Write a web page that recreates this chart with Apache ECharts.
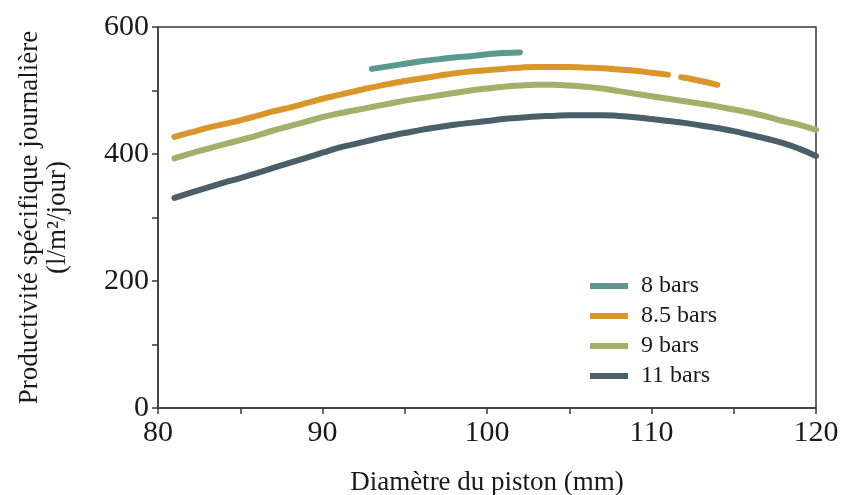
<!DOCTYPE html>
<html>
<head>
<meta charset="utf-8">
<script src="https://cdn.jsdelivr.net/npm/echarts@6/dist/echarts.min.js"></script>
<style>
  html, body { margin: 0; padding: 0; background: #fff; }
  #chart { width: 855px; height: 495px; }
</style>
</head>
<body>
<div id="chart"></div>
<script>
// piston diameter (mm) -> productivity (l/m2/jour)
const x8 = [93, 94, 95, 96, 97, 98, 99, 100, 101, 102];
const y8 = [534, 538, 542, 546, 549, 552, 554, 557, 559, 560];

const x85 = [81, 82, 83, 84, 85, 86, 87, 88, 89, 90, 91, 92, 93, 94, 95, 96, 97, 98, 99, 100, 101, 102, 103, 104, 105, 106, 107, 108, 109, 110, 111, 111.4, 111.8, 112, 113, 114];
const y85 = [427, 434, 441, 447, 453, 460, 467, 473, 480, 487, 493, 499, 505, 510, 515, 519, 523, 527, 530, 532, 534, 536, 537, 537, 537, 536, 535, 533, 531, 528, 525, '-', 521, 520, 515, 509];

const x9 = [81, 82, 83, 84, 85, 86, 87, 88, 89, 90, 91, 92, 93, 94, 95, 96, 97, 98, 99, 100, 101, 102, 103, 104, 105, 106, 107, 108, 109, 110, 111, 112, 113, 114, 115, 116, 117, 118, 119, 120];
const y9 = [393, 401, 408, 415, 422, 429, 437, 444, 451, 458, 464, 469, 474, 479, 484, 488, 492, 496, 500, 503, 506, 508, 509, 509, 508, 506, 503, 499, 495, 491, 487, 483, 479, 475, 470, 465, 459, 452, 446, 438];

const x11 = [81, 82, 83, 84, 85, 86, 87, 88, 89, 90, 91, 92, 93, 94, 95, 96, 97, 98, 99, 100, 101, 102, 103, 104, 105, 106, 107, 108, 109, 110, 111, 112, 113, 114, 115, 116, 117, 118, 119, 120];
const y11 = [331, 339, 347, 355, 362, 370, 378, 386, 394, 402, 410, 416, 422, 428, 433, 438, 442, 446, 449, 452, 455, 457, 459, 460, 461, 461, 461, 460, 458, 455, 452, 449, 445, 441, 436, 430, 424, 417, 408, 397];

const seriesNames = ['8 bars', '8.5 bars', '9 bars', '11 bars'];
const seriesColors = ['#5a9a8e', '#d9962a', '#a0b169', '#4b5f6b'];

const pair = (xs, ys) => xs.map((x, i) => [x, ys[i]]);
const allData = [pair(x8, y8), pair(x85, y85), pair(x9, y9), pair(x11, y11)];

const font = 'Liberation Serif';
const chart = echarts.init(document.getElementById('chart'));

chart.setOption({
  animation: false,
  grid: {
    left: 158, right: 39, top: 27, bottom: 87,
    outerBoundsMode: 'none',
    show: true, borderColor: '#3a3a3a', borderWidth: 1.5
  },
  legend: {
    orient: 'vertical',
    left: 585, top: 269,
    itemWidth: 38, itemHeight: 6, itemGap: 6,
    icon: 'rect',
    textStyle: { fontFamily: font, fontSize: 24, color: '#1a1a1a', padding: [0, 0, 0, 8] },
    data: seriesNames
  },
  xAxis: {
    type: 'value', min: 80, max: 120, interval: 5,
    name: 'Diamètre du piston (mm)',
    nameLocation: 'middle', nameGap: 61,
    nameTextStyle: { fontFamily: font, fontSize: 27, color: '#1a1a1a' },
    axisLine: { lineStyle: { color: '#3a3a3a', width: 1.5 } },
    axisTick: { show: true, length: 6, lineStyle: { color: '#3a3a3a', width: 1.5 } },
    axisLabel: {
      fontFamily: font, fontSize: 30, color: '#1a1a1a', margin: 10,
      formatter: v => (v % 10 === 0 ? String(v) : '')
    },
    splitLine: { show: false }
  },
  yAxis: {
    type: 'value', min: 0, max: 600, interval: 100,
    name: 'Productivité spécifique journalière\n(l/m²/jour)',
    nameLocation: 'middle', nameGap: 86,
    nameTextStyle: { fontFamily: font, fontSize: 27, color: '#1a1a1a', lineHeight: 28 },
    axisLine: { lineStyle: { color: '#3a3a3a', width: 1.5 } },
    axisTick: { show: true, length: 6, lineStyle: { color: '#3a3a3a', width: 1.5 } },
    axisLabel: {
      fontFamily: font, fontSize: 30, color: '#1a1a1a', margin: 9,
      formatter: v => (v % 200 === 0 ? String(v) : '')
    },
    splitLine: { show: false }
  },
  series: seriesNames.map((name, i) => ({
    name,
    type: 'line',
    data: allData[i],
    smooth: true,
    showSymbol: false,
    connectNulls: false,
    color: seriesColors[i],
    lineStyle: { width: 6, color: seriesColors[i], cap: 'round' }
  }))
});
</script>
</body>
</html>
